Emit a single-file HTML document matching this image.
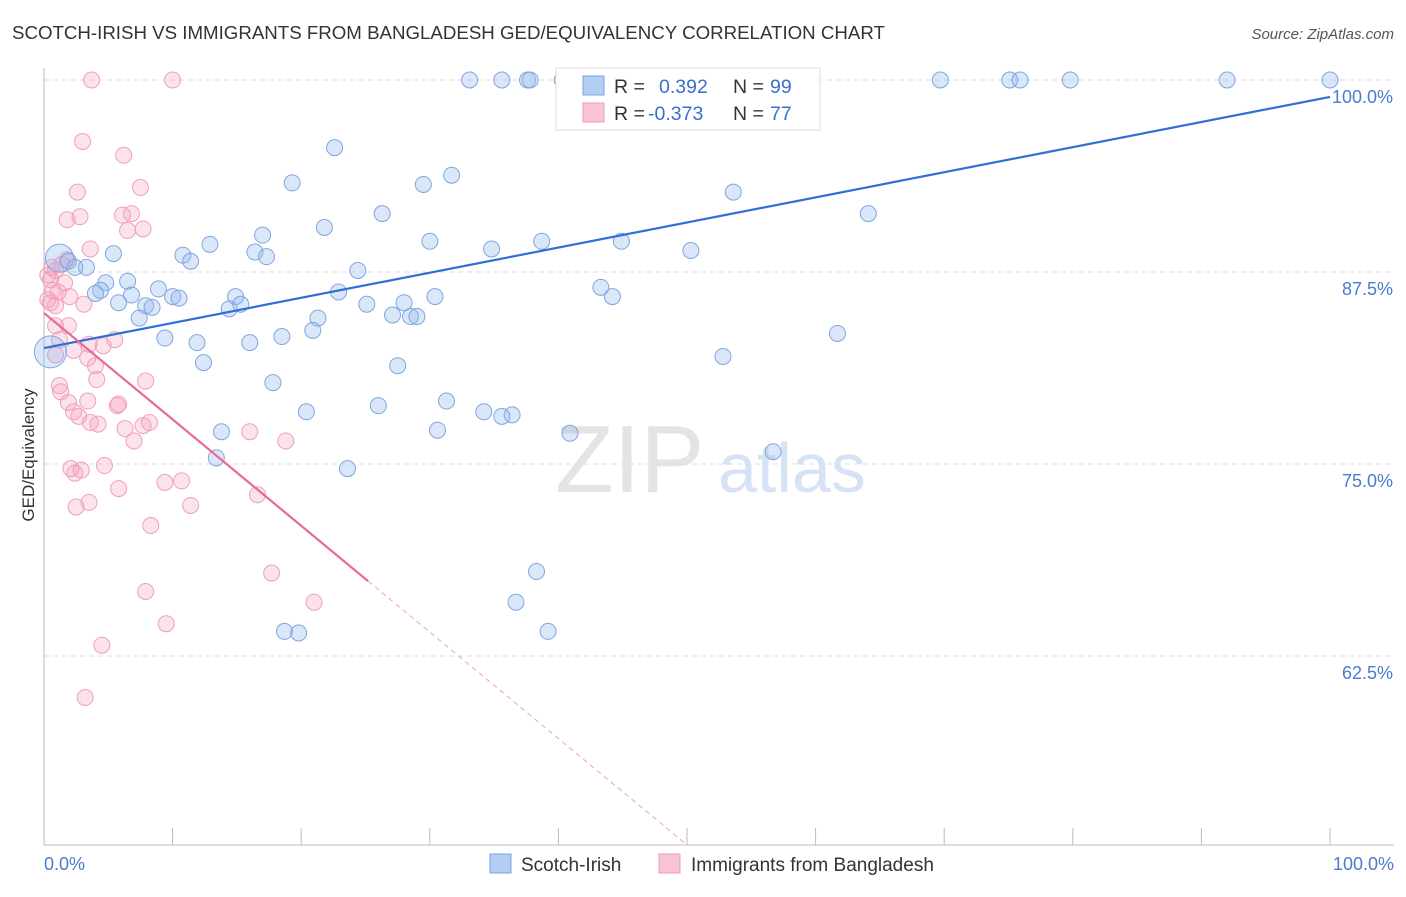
<!DOCTYPE html>
<html><head><meta charset="utf-8"><style>
body{margin:0;background:#fff;font-family:"Liberation Sans",sans-serif;}
svg text{font-family:"Liberation Sans",sans-serif;}
</style></head><body>
<svg id="chart" width="1406" height="892">
<text x="12" y="39" font-size="18.7" fill="#333">SCOTCH-IRISH VS IMMIGRANTS FROM BANGLADESH GED/EQUIVALENCY CORRELATION CHART</text>
<text x="1394" y="39" font-size="15" fill="#555" font-style="italic" text-anchor="end">Source: ZipAtlas.com</text>
<text x="555" y="492" font-size="96" fill="#e4e4e4" font-family="Liberation Serif">ZIP</text>
<text x="718" y="492" font-size="70" fill="#d6e3f5">atlas</text>
<g id="grid"></g><g id="axes"></g><g id="pink"></g><g id="blue"></g><g id="lines"></g>
<text transform="translate(34,455) rotate(-90)" font-size="17" fill="#333" text-anchor="middle">GED/Equivalency</text>
<text x="44" y="870" font-size="18" fill="#4a7bd0">0.0%</text>
<text x="1394" y="870" font-size="18" fill="#4a7bd0" text-anchor="end">100.0%</text>
<g>
<rect x="556" y="68" width="264" height="62" fill="#fff" stroke="#ddd"/>
<rect x="583" y="76" width="21" height="19" fill="#b3cdf2" stroke="#7aa3e0"/>
<rect x="583" y="103" width="21" height="19" fill="#f9c5d5" stroke="#ef9ab5"/>
<text x="614" y="93" font-size="19.5" fill="#333">R = </text><text x="659" y="93" font-size="19.5" fill="#3a6fd0">0.392</text>
<text x="733" y="93" font-size="19.5" fill="#333">N = </text><text x="770" y="93" font-size="19.5" fill="#3a6fd0">99</text>
<text x="614" y="120" font-size="19.5" fill="#333">R = </text><text x="648" y="120" font-size="19.5" fill="#3a6fd0">-0.373</text>
<text x="733" y="120" font-size="19.5" fill="#333">N = </text><text x="770" y="120" font-size="19.5" fill="#3a6fd0">77</text>
</g>
<g>
<rect x="490" y="854" width="21" height="19" fill="#b3cdf2" stroke="#7aa3e0"/>
<text x="521" y="871" font-size="19" fill="#333">Scotch-Irish</text>
<rect x="659" y="854" width="21" height="19" fill="#f9c5d5" stroke="#ef9ab5"/>
<text x="691" y="871" font-size="19" fill="#333">Immigrants from Bangladesh</text>
</g>
</svg>
<script>
const yTicks=[100,87.5,75,62.5];
const yTickLabels=["100.0%","87.5%","75.0%","62.5%"];
const xTicks=[0,10,20,30,40,50,60,70,80,90,100];
const blueX=[33.1,35.6,37.6,37.8,40.3,43.1,46.2,51.0,56.0,69.7,75.1,75.9,79.8,92.0,100,22.6,19.3,31.7,29.5,53.6,64.1,26.3,21.8,17.0,12.9,30.0,38.7,44.9,34.8,50.3,10.8,5.4,11.4,16.4,17.3,24.4,1.2,1.9,3.3,2.4,6.5,4.8,8.9,4.4,4.0,6.8,10.0,10.5,14.9,22.9,43.3,44.2,30.4,28.0,25.1,5.8,7.9,8.4,14.4,15.3,27.1,28.5,29.0,21.3,7.4,20.9,18.5,9.4,16.0,11.9,61.7,52.8,12.4,27.5,17.8,26.0,31.3,20.4,34.2,36.4,35.6,13.8,30.6,40.9,13.4,23.6,56.7,38.3,36.7,39.2,18.7,19.8,0.5];
const blueY=[100,100,100,100,100,100,100,100,100,100,100,100,100,100,100,95.6,93.3,93.8,93.2,92.7,91.3,91.3,90.4,89.9,89.3,89.5,89.5,89.5,89.0,88.9,88.6,88.7,88.2,88.8,88.5,87.6,88.4,88.2,87.8,87.8,86.9,86.8,86.4,86.3,86.1,86.0,85.9,85.8,85.9,86.2,86.5,85.9,85.9,85.5,85.4,85.5,85.3,85.2,85.1,85.4,84.7,84.6,84.6,84.5,84.5,83.7,83.3,83.2,82.9,82.9,83.5,82.0,81.6,81.4,80.3,78.8,79.1,78.4,78.4,78.2,78.1,77.1,77.2,77.0,75.4,74.7,75.8,68.0,66.0,64.1,64.1,64.0,82.3];
const pinkX=[3.7,10.0,3.0,6.2,7.5,2.6,2.8,1.8,6.1,6.8,7.7,6.5,3.6,1.8,1.4,0.6,0.9,0.3,1.6,0.7,1.1,2.0,3.1,0.5,0.9,0.9,1.9,1.2,5.5,3.5,2.3,4.6,0.9,3.4,4.0,4.1,7.9,1.2,1.3,1.9,3.4,5.7,2.3,2.7,5.8,3.6,4.2,8.2,6.3,7.7,16.0,7.0,18.8,2.1,2.4,2.9,4.7,10.7,9.4,5.8,3.5,2.5,11.4,16.6,8.3,17.7,7.9,21.0,9.5,4.5,3.2,0.3,0.5];
const pinkY=[100,100,96.0,95.1,93.0,92.7,91.1,90.9,91.2,91.3,90.3,90.2,89.0,88.3,88.0,87.8,87.6,87.3,86.8,86.3,86.2,85.9,85.4,85.5,85.3,84.0,84.0,83.1,83.1,82.8,82.4,82.7,82.1,81.9,81.4,80.5,80.4,80.1,79.7,79.0,79.1,78.8,78.4,78.1,78.9,77.7,77.6,77.7,77.3,77.5,77.1,76.5,76.5,74.7,74.4,74.6,74.9,73.9,73.8,73.4,72.5,72.2,72.3,73.0,71.0,67.9,66.7,66.0,64.6,63.2,59.8,85.7,87.0];
const blueTrend=[82.55,98.9];
const pinkTrend=[84.83,50.2];
const pinkSolidEnd=25.2;
const NS="http://www.w3.org/2000/svg";
const X=v=>44+v*12.86, Y=v=>80+(100-v)*15.36;
function mk(tag,attrs,parent){const e=document.createElementNS(NS,tag);for(const k in attrs)e.setAttribute(k,attrs[k]);document.getElementById(parent).appendChild(e);return e;}
yTicks.forEach((t,i)=>{
 const l=mk('line',{x1:44,x2:1394,y1:Y(t),y2:Y(t),stroke:'#ddd','stroke-dasharray':'5,4'},'grid');
 
 
 const tx=mk('text',{x:1393,y:Y(t)+23,'font-size':18,fill:'#4a7bd0','text-anchor':'end'},'grid');
 tx.textContent=yTickLabels[i];
 
 
});
const ax=mk('line',{x1:44,x2:44,y1:68,y2:845,stroke:'#bbb'},'axes');


const bx=mk('line',{x1:44,x2:1394,y1:845,y2:845,stroke:'#bbb'},'axes');


xTicks.forEach(t=>{
 const l=mk('line',{x1:X(t),x2:X(t),y1:828,y2:845,stroke:'#bbb'},'axes');
 
 
});
pinkX.forEach((v,i)=>{
 const c=mk('circle',{cx:X(v),cy:Y(pinkY[i]),r:8,fill:'rgba(245,160,190,0.3)',stroke:'#f0a0bb','stroke-width':1},'pink');
 
 
});
blueX.forEach((v,i)=>{
 const big=(i===36)?14:(i===blueX.length-1?16:8);
 const c=mk('circle',{cx:X(v),cy:Y(blueY[i]),r:big,fill:'rgba(150,185,235,0.35)',stroke:'#7fa6e0','stroke-width':1},'blue');
 
 
});
const bl=mk('line',{x1:X(0),y1:Y(blueTrend[0]),x2:X(100),y2:Y(blueTrend[1]),stroke:'#2f6fd6','stroke-width':2.2},'lines');


const py=x=>pinkTrend[0]+(pinkTrend[1]-pinkTrend[0])*x/50;
const pl=mk('line',{x1:X(0),y1:Y(pinkTrend[0]),x2:X(pinkSolidEnd),y2:Y(py(pinkSolidEnd)),stroke:'#e8699a','stroke-width':2.2},'lines');


const pd=mk('line',{x1:X(pinkSolidEnd),y1:Y(py(pinkSolidEnd)),x2:X(50),y2:Y(pinkTrend[1]),stroke:'#eea0bb','stroke-width':1,'stroke-dasharray':'5,4'},'lines');


</script>
</body></html>
